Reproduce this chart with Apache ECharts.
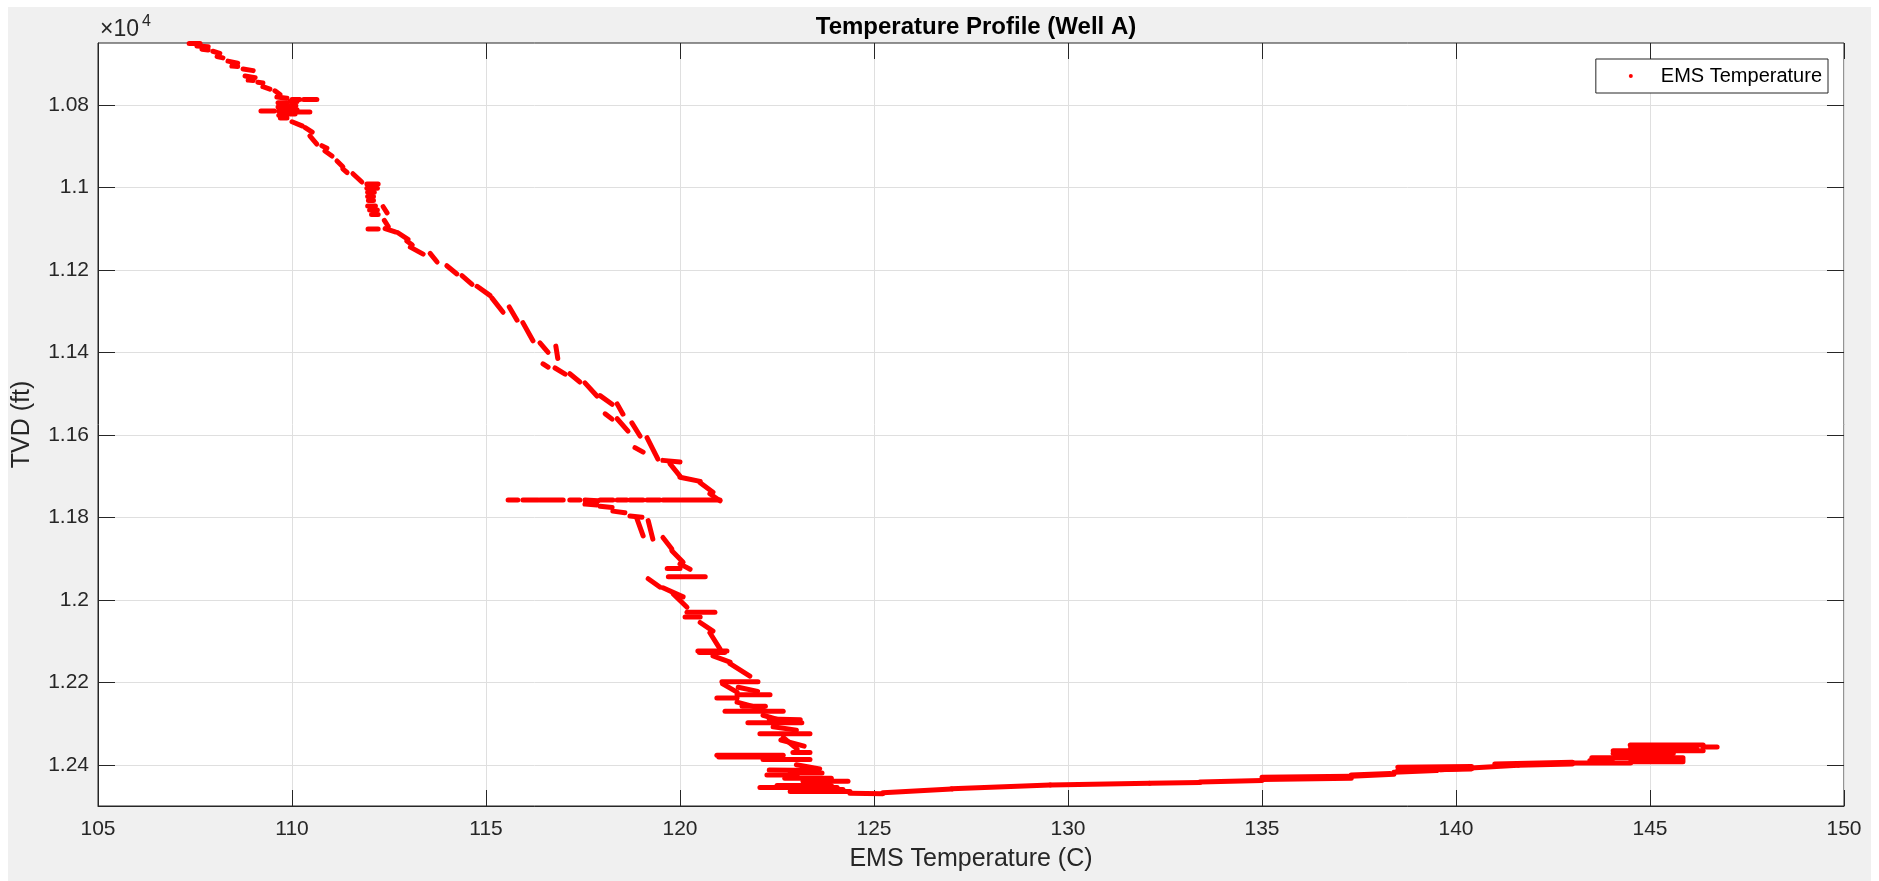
<!DOCTYPE html>
<html>
<head>
<meta charset="utf-8">
<title>Temperature Profile (Well A)</title>
<script src="https://cdn.jsdelivr.net/npm/echarts@6/dist/echarts.min.js"></script>
<style>
  html, body { margin: 0; padding: 0; background: #fff; }
  #chart { width: 1879px; height: 881px; }
</style>
</head>
<body>
<div id="chart"></div>
<script>
// axis ticks
const tempTicks = [105, 110, 115, 120, 125, 130, 135, 140, 145, 150];
const tvdTicks = [10800, 11000, 11200, 11400, 11600, 11800, 12000, 12200, 12400];

// each run of EMS samples: [tempStart, tvdStart, tempEnd, tvdEnd]
const upperRuns = [
    [107.35, 10651, 107.63, 10651], [107.55, 10657, 107.84, 10659], [107.68, 10665, 107.84, 10667],
    [107.96, 10670, 108.14, 10675], [108.07, 10683, 108.22, 10686], [108.35, 10694, 108.6, 10699],
    [108.45, 10706, 108.6, 10707], [108.74, 10713, 109.0, 10717], [108.79, 10730, 109.05, 10734],
    [108.87, 10740, 109.0, 10741], [109.18, 10723, 109.18, 10723], [109.12, 10745, 109.25, 10747],
    [109.25, 10756, 109.43, 10762], [109.56, 10766, 109.69, 10775], [109.61, 10781, 109.87, 10784],
    [110.0, 10787, 110.2, 10787], [110.3, 10787, 110.64, 10787],
    [109.64, 10795, 109.87, 10795], [109.64, 10805, 109.87, 10805], [109.66, 10815, 109.87, 10815],
    [109.66, 10825, 109.87, 10825], [109.7, 10832, 109.87, 10832],
    [109.95, 10792, 110.13, 10792], [109.95, 10802, 110.1, 10802], [109.95, 10812, 110.13, 10812],
    [109.95, 10822, 110.08, 10822], [108.97, 10815, 108.97, 10815], [109.2, 10815, 109.55, 10815],
    [110.15, 10817, 110.46, 10817], [110.0, 10841, 110.26, 10851], [110.34, 10855, 110.52, 10866],
    [110.46, 10875, 110.64, 10895], [110.77, 10899, 110.9, 10905], [110.85, 10912, 111.03, 10924],
    [111.19, 10914, 111.19, 10914], [111.16, 10936, 111.31, 10950], [111.31, 10955, 111.42, 10964],
    [111.57, 10967, 111.8, 10987],
    [111.93, 10992, 112.22, 10992], [111.93, 11002, 112.2, 11002], [111.95, 11012, 112.12, 11012],
    [111.95, 11022, 112.1, 11022], [111.97, 11032, 112.1, 11032], [111.95, 11045, 112.15, 11045],
    [112.0, 11055, 112.2, 11055], [112.05, 11066, 112.22, 11066], [112.4, 10996, 112.4, 10996],
    [112.35, 11047, 112.45, 11062], [111.96, 11101, 112.22, 11101], [112.38, 11080, 112.48, 11095],
    [112.4, 11100, 112.66, 11108], [112.73, 11110, 112.99, 11126], [112.96, 11130, 113.1, 11140],
    [113.05, 11145, 113.38, 11162], [113.22, 11135, 113.22, 11135], [113.56, 11144, 113.56, 11144],
    [113.56, 11160, 113.74, 11181], [113.99, 11190, 114.25, 11210], [114.38, 11193, 114.38, 11193],
    [114.38, 11214, 114.64, 11235], [114.77, 11240, 115.1, 11262], [115.15, 11268, 115.44, 11303]
];

const middleRuns = [
    [115.6, 11290, 115.8, 11322], [115.95, 11328, 116.21, 11372], [116.0, 11382, 116.0, 11382],
    [116.39, 11377, 116.6, 11400], [116.8, 11385, 116.85, 11415], [116.47, 11428, 116.6, 11436],
    [116.78, 11438, 117.04, 11453], [117.16, 11452, 117.42, 11472], [117.55, 11474, 117.86, 11506],
    [117.94, 11505, 118.25, 11526], [118.38, 11525, 118.53, 11550], [118.07, 11549, 118.25, 11562],
    [118.38, 11561, 118.66, 11591], [118.76, 11571, 118.97, 11603], [118.84, 11631, 119.05, 11642],
    [119.15, 11607, 119.43, 11659], [119.56, 11662, 120.0, 11666], [119.74, 11670, 120.0, 11700],
    [120.0, 11703, 120.52, 11713], [120.52, 11716, 120.85, 11739], [120.77, 11743, 121.03, 11760]
];

// the cold spike near 11760 ft
const spikeRuns = [
    [115.36, 11758, 115.36, 11758], [115.57, 11758, 115.82, 11758], [115.95, 11758, 116.34, 11758],
    [116.39, 11758, 116.99, 11758], [117.16, 11758, 117.42, 11758], [117.55, 11758, 117.89, 11760],
    [117.94, 11758, 118.27, 11758], [118.38, 11758, 118.63, 11758], [118.71, 11758, 119.05, 11758],
    [119.15, 11758, 119.48, 11758], [119.56, 11758, 120.0, 11758], [120.05, 11758, 121.03, 11758],
    [117.55, 11768, 117.86, 11770], [117.94, 11773, 118.25, 11776], [118.27, 11785, 118.58, 11789],
    [118.71, 11797, 119.02, 11800]
];

const lowerRuns = [
    [118.89, 11803, 119.05, 11845], [119.18, 11808, 119.3, 11853], [119.56, 11849, 119.79, 11877],
    [119.79, 11881, 120.08, 11909], [120.0, 11913, 120.26, 11926], [119.67, 11924, 120.0, 11924],
    [119.7, 11944, 120.65, 11944], [119.18, 11949, 119.48, 11969], [119.56, 11971, 120.08, 11993],
    [119.82, 11985, 120.18, 12018], [120.18, 12030, 120.9, 12030], [120.13, 12042, 120.52, 12042],
    [120.52, 12055, 120.85, 12076], [120.77, 12080, 121.03, 12119], [120.46, 12124, 121.21, 12124],
    [120.5, 12128, 121.15, 12128], [120.85, 12136, 121.29, 12151], [121.29, 12155, 121.8, 12185],
    [121.08, 12199, 122.01, 12199], [121.1, 12204, 121.47, 12224], [121.5, 12212, 122.0, 12222],
    [121.47, 12230, 122.32, 12230], [120.95, 12238, 121.47, 12238], [121.47, 12248, 122.14, 12265],
    [121.6, 12258, 122.2, 12258], [121.16, 12270, 122.66, 12270], [122.14, 12280, 122.66, 12294],
    [122.3, 12289, 123.1, 12291], [121.75, 12298, 123.14, 12298], [122.4, 12308, 123.0, 12316],
    [122.06, 12325, 123.35, 12325], [122.66, 12334, 123.02, 12362], [122.6, 12340, 123.2, 12355],
    [122.91, 12370, 123.35, 12370], [120.95, 12377, 122.66, 12377], [121.0, 12381, 122.5, 12381],
    [122.14, 12387, 123.35, 12387], [123.0, 12400, 123.6, 12410], [122.3, 12413, 123.5, 12414],
    [122.84, 12420, 123.66, 12420], [122.24, 12425, 123.02, 12425], [122.7, 12433, 123.9, 12433],
    [123.17, 12440, 124.33, 12440], [122.5, 12450, 123.9, 12450], [122.06, 12455, 124.05, 12455],
    [123.2, 12460, 124.2, 12460], [122.84, 12465, 124.38, 12465], [124.38, 12469, 125.23, 12470]
];

// the lateral, heating up towards the toe
const tailRuns = [
    [125.23, 12468, 127.0, 12459], [127.0, 12458, 129.54, 12449], [129.54, 12449, 132.1, 12445],
    [132.1, 12445, 133.4, 12443], [133.4, 12442, 135.0, 12438], [135.0, 12430, 137.3, 12428],
    [135.0, 12436, 137.3, 12433], [137.3, 12428, 138.4, 12423], [137.3, 12425, 138.3, 12421],
    [138.5, 12406, 140.4, 12404], [138.5, 12414, 140.4, 12410], [138.4, 12418, 139.5, 12414],
    [139.6, 12412, 141.6, 12401], [141.6, 12401, 143.0, 12398], [141.0, 12398, 143.0, 12394],
    [142.9, 12396, 144.5, 12396], [143.45, 12390, 144.05, 12385], [143.5, 12383, 145.85, 12383],
    [144.9, 12388, 145.85, 12388], [144.5, 12393, 145.85, 12393], [144.05, 12373, 145.6, 12373],
    [144.05, 12366, 146.37, 12366], [144.5, 12360, 146.2, 12360], [144.49, 12352, 146.37, 12352],
    [146.37, 12357, 146.73, 12357]
];

const axisColor = '#262626';
const gridColor = '#dfdfdf';
const font = '"Liberation Sans", Arial, Helvetica, sans-serif';
const runs = [].concat(upperRuns, middleRuns, spikeRuns, lowerRuns, tailRuns);

function renderRun(params, api) {
    const a = api.coord([api.value(0), api.value(1)]);
    const b = api.coord([api.value(2), api.value(3)]);
    return {
        type: 'line',
        shape: { x1: a[0], y1: a[1], x2: b[0], y2: b[1] },
        style: { stroke: '#ff0000', lineWidth: 5, lineCap: 'round' }
    };
}

const chart = echarts.init(document.getElementById('chart'));
chart.setOption({
    backgroundColor: '#ffffff',
    animation: false,
    title: {
        text: 'Temperature Profile (Well A)',
        left: 971,
        top: 10,
        textAlign: 'center',
        textStyle: { fontFamily: font, fontSize: 24, fontWeight: 'bold', color: '#000' }
    },
    legend: {
        right: 51,
        top: 59,
        align: 'left',
        padding: [6, 6, 6, 33],
        backgroundColor: '#fff',
        borderColor: axisColor,
        borderWidth: 1,
        borderRadius: 0,
        itemWidth: 50,
        itemHeight: 4,
        textStyle: { fontFamily: font, fontSize: 20, color: '#000', lineHeight: 22 },
        data: [{ name: 'EMS Temperature', icon: 'circle' }]
    },
    grid: {
        left: 98, right: 35, top: 43, bottom: 75,
        show: true,
        backgroundColor: '#fff',
        borderColor: axisColor,
        borderWidth: 1
    },
    xAxis: [{
        type: 'value',
        position: 'bottom',
        min: tempTicks[0],
        max: tempTicks[tempTicks.length - 1],
        interval: 5,
        axisLine: { show: true, lineStyle: { color: axisColor, width: 1 } },
        axisTick: { show: true, inside: true, length: 16, lineStyle: { color: axisColor } },
        axisLabel: { margin: 13, color: axisColor, fontFamily: font, fontSize: 21 },
        splitLine: { show: true, lineStyle: { color: gridColor, width: 1 } },
        name: 'EMS Temperature (C)',
        nameLocation: 'middle',
        nameGap: 41,
        nameTextStyle: { fontFamily: font, fontSize: 25, color: axisColor }
    }, {
        type: 'value',
        position: 'top',
        min: tempTicks[0],
        max: tempTicks[tempTicks.length - 1],
        interval: 5,
        axisLine: { show: false },
        axisTick: { show: true, inside: true, length: 16, lineStyle: { color: axisColor } },
        axisLabel: { show: false },
        splitLine: { show: false }
    }],
    yAxis: [{
        type: 'value',
        position: 'left',
        inverse: true,
        min: 10650,
        max: 12500,
        axisLine: { show: true, lineStyle: { color: axisColor, width: 1 } },
        axisTick: { show: true, inside: true, length: 17, customValues: tvdTicks, lineStyle: { color: axisColor } },
        axisLabel: {
            customValues: tvdTicks,
            margin: 9,
            color: axisColor,
            fontFamily: font,
            fontSize: 21,
            formatter: v => String(+(v / 10000).toFixed(3))
        },
        splitLine: { show: true, lineStyle: { color: gridColor, width: 1 } },
        name: 'TVD (ft)',
        nameLocation: 'middle',
        nameGap: 63,
        nameRotate: 90,
        nameTextStyle: { fontFamily: font, fontSize: 25, color: axisColor }
    }, {
        type: 'value',
        position: 'right',
        inverse: true,
        min: 10650,
        max: 12500,
        axisLine: { show: false },
        axisTick: { show: true, inside: true, length: 17, customValues: tvdTicks, lineStyle: { color: axisColor } },
        axisLabel: { show: false },
        splitLine: { show: false }
    }],
    graphic: [
        {
            type: 'rect', z: -100, silent: true,
            shape: { x: 8, y: 7, width: 1863, height: 874 },
            style: { fill: '#f0f0f0' }
        },
        {
            type: 'text', x: 100, y: 30,
            style: { text: '×10', fontFamily: font, fontSize: 23, fill: axisColor, align: 'left', verticalAlign: 'middle' }
        },
        {
            type: 'text', x: 142, y: 22,
            style: { text: '4', fontFamily: font, fontSize: 16, fill: axisColor, align: 'left', verticalAlign: 'middle' }
        }
    ],
    series: [{
        type: 'custom',
        name: 'EMS Temperature',
        renderItem: renderRun,
        data: runs,
        encode: { x: [0, 2], y: [1, 3] },
        itemStyle: { color: '#ff0000' }
    }]
});
</script>
</body>
</html>
